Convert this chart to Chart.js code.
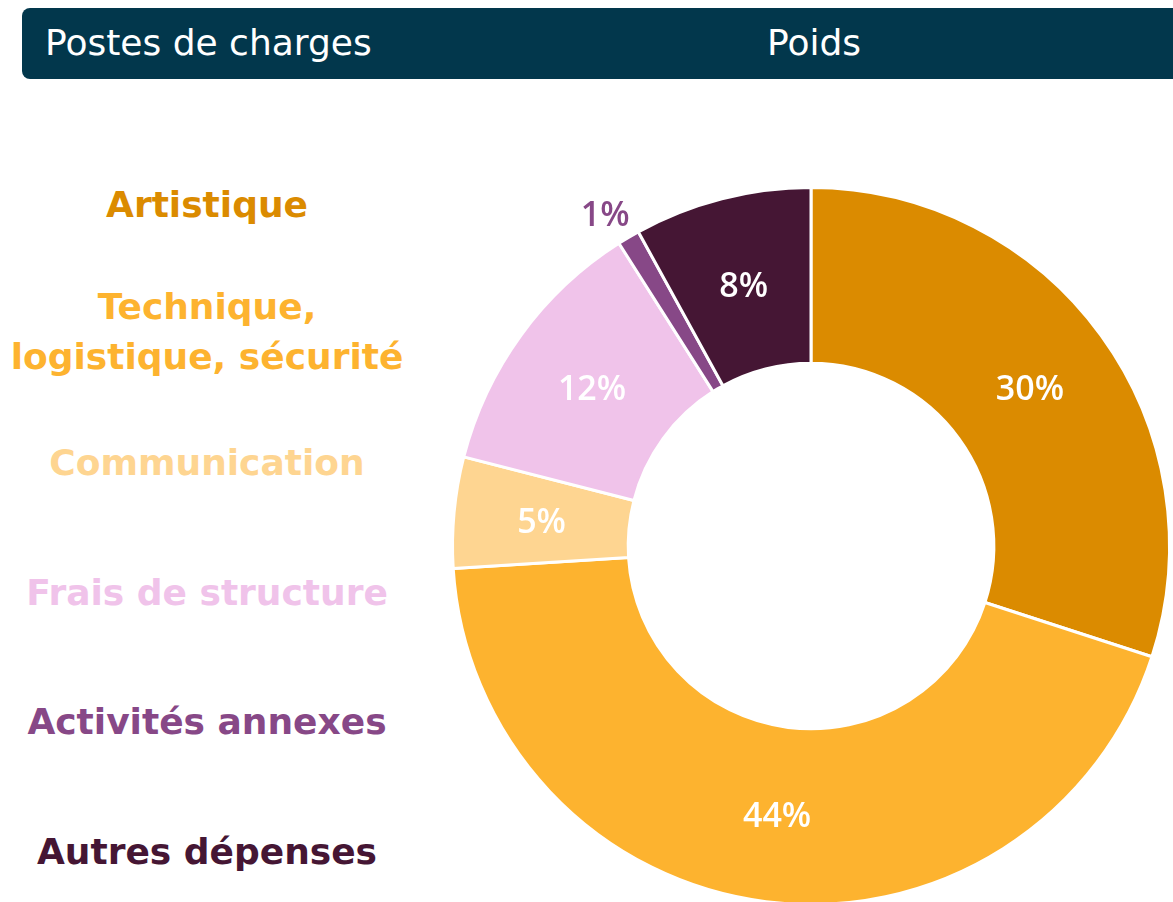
<!DOCTYPE html>
<html>
<head>
<meta charset="utf-8">
<script src="https://cdn.jsdelivr.net/npm/chart.js@4"></script>
<style>
  html, body { margin: 0; padding: 0; background: #fff; overflow: hidden; width: 1173px; height: 902px; }
  #header {
    position: absolute; left: 22px; top: 8px; width: 1170px; height: 71px;
    background: #02374c; border-radius: 8px; color: #fff;
    font-family: "DejaVu Sans", sans-serif; font-size: 36px;
  }
  #header .h1 { position: absolute; left: 23px; top: 14px; }
  #header .h2 { position: absolute; left: 745px; top: 14px; }
  .lbl {
    position: absolute; left: 0; width: 414px; text-align: center;
    font-family: "DejaVu Sans", sans-serif; font-weight: bold; font-size: 36px; line-height: 50px;
  }
  #chartBox { position: absolute; left: 433px; top: 168px; }
</style>
</head>
<body>
<div id="header"><span class="h1">Postes de charges</span><span class="h2">Poids</span></div>
<div id="labels"></div>
<div id="chartBox"><canvas id="myChart" width="756" height="756"></canvas></div>
<script>
var categories = [
  "Artistique",
  "Technique, logistique, sécurité",
  "Communication",
  "Frais de structure",
  "Activités annexes",
  "Autres dépenses",
];
var legendLines = [
  ["Artistique"],
  ["Technique,", "logistique, sécurité"],
  ["Communication"],
  ["Frais de structure"],
  ["Activités annexes"],
  ["Autres dépenses"],
];
var weights = [30, 44, 5, 12, 1, 8];
var colors = ["#db8b00", "#fdb32f", "#fed591", "#f0c3ea", "#874887", "#451634"];
var legendTops = [180, 282, 438, 568, 697, 827];

var box = document.getElementById("labels");
legendLines.forEach(function (lines, i) {
  var d = document.createElement("div");
  d.className = "lbl";
  d.style.top = legendTops[i] + "px";
  d.style.color = colors[i];
  d.innerHTML = lines.join("<br>");
  box.appendChild(d);
});

// percent labels, white inside the ring, outside for the tiny slice
var sliceLabels = {
  id: "sliceLabels",
  afterDatasetsDraw: function (chart) {
    var c = chart.ctx;
    var meta = chart.getDatasetMeta(0);
    c.save();
    c.font = "600 34px 'Open Sans', sans-serif";
    c.textAlign = "center";
    c.textBaseline = "middle";
    meta.data.forEach(function (arc, i) {
      var mid = (arc.startAngle + arc.endAngle) / 2;
      var r = (arc.innerRadius + arc.outerRadius) / 2;
      var dx = 0, dy = 3;
      c.fillStyle = "#fff";
      if (weights[i] < 3) {
        r = arc.outerRadius + 32;
        dx = -7; dy = 6;
        c.fillStyle = colors[i];
      }
      c.fillText(weights[i] + "%", arc.x + Math.cos(mid) * r + dx, arc.y + Math.sin(mid) * r + dy);
    });
    c.restore();
  },
};

var ctx = document.getElementById("myChart").getContext("2d");
var myChart = new Chart(ctx, {
  type: "doughnut",
  data: {
    labels: categories,
    datasets: [
      {
        data: weights,
        backgroundColor: colors,
        borderColor: "#fff",
        borderWidth: 3,
      },
    ],
  },
  options: {
    responsive: false,
    animation: false,
    cutout: "51%",
    layout: { padding: 18 },
    plugins: {
      legend: { display: false },
      tooltip: { enabled: false },
    },
  },
  plugins: [sliceLabels],
});
</script>
</body>
</html>
